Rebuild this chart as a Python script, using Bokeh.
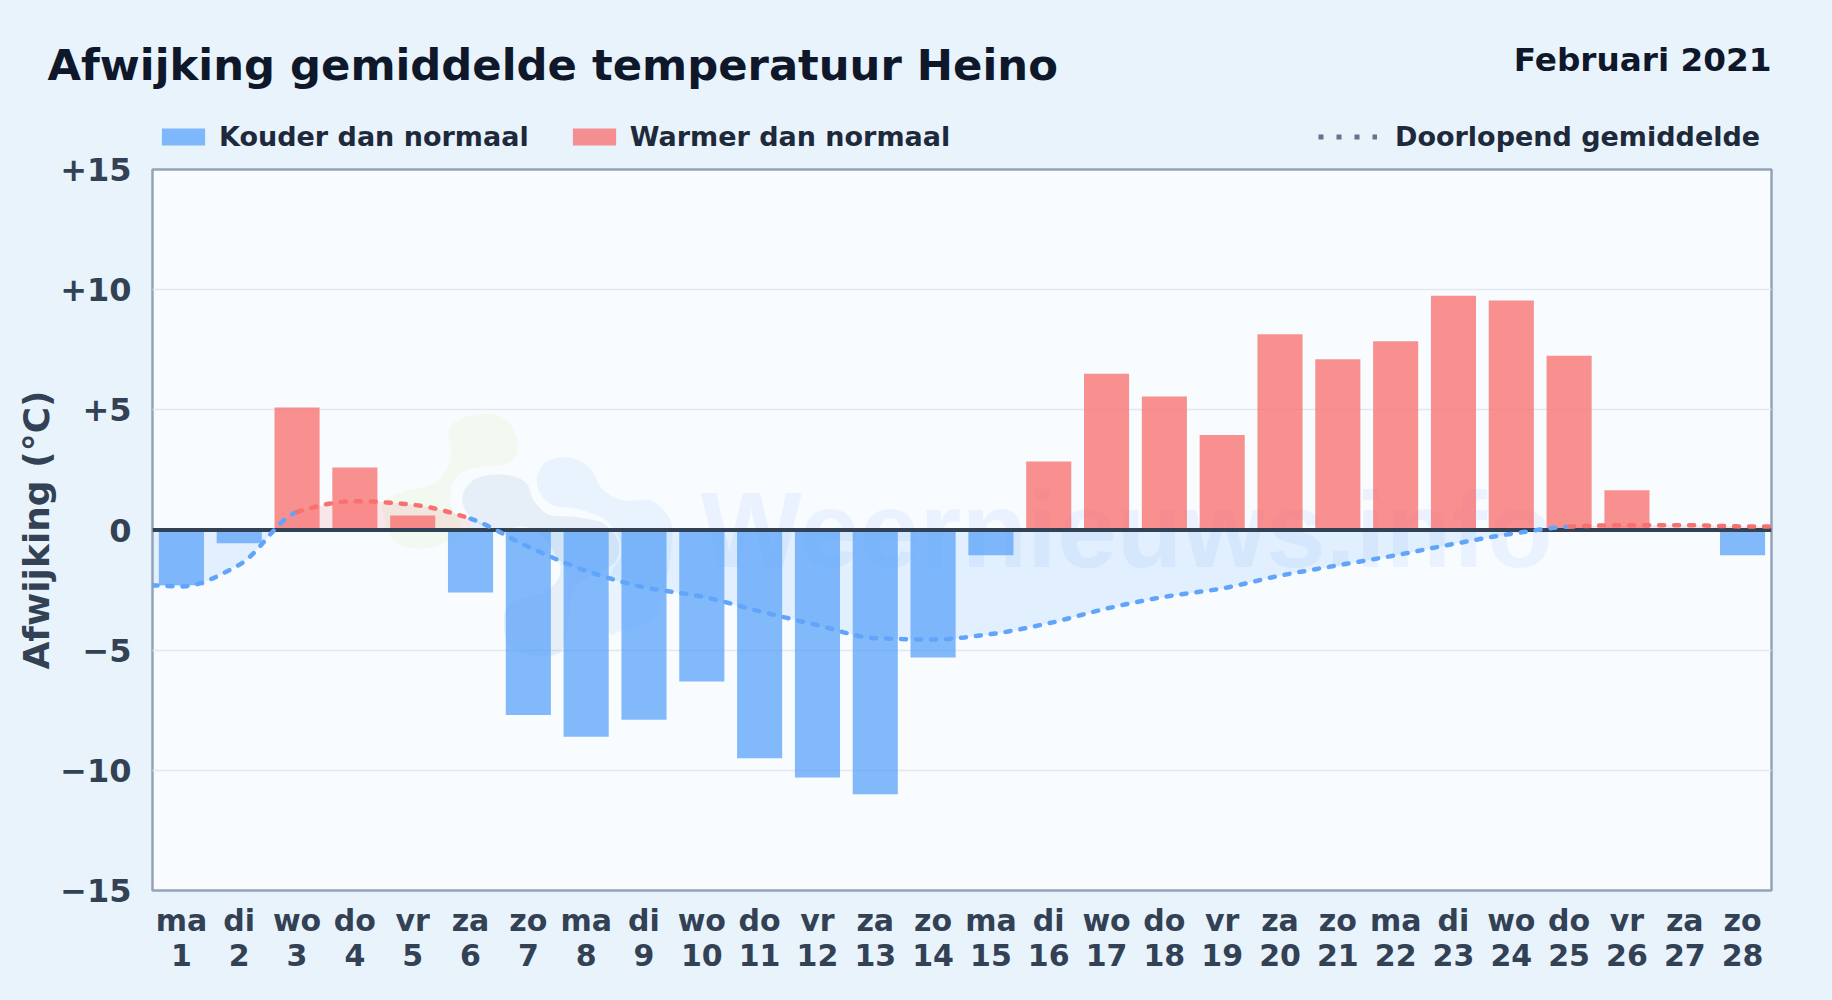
import numpy as np
from bokeh.plotting import figure
from bokeh.embed import file_html
from bokeh.layouts import column
from bokeh.resources import INLINE
from bokeh.models import (ColumnDataSource, FixedTicker, Label, Legend, LegendItem, Range1d)

# ---------------- data ----------------
days = list(range(1, 29))
weekdays = ["ma","di","wo","do","vr","za","zo"] * 4
deviation = [-2.3,-0.55,5.1,2.6,0.6,-2.6,-7.7,-8.6,-7.9,-6.3,-9.5,-10.3,-11.0,-5.3,
             -1.05,2.85,6.5,5.55,3.95,8.15,7.1,7.85,9.75,9.55,7.25,1.65,0.0,-1.05]
running_mean = [-2.35,-1.45,0.75,1.2,1.05,0.47,-0.7,-1.7,-2.38,-2.77,-3.38,-3.96,-4.5,-4.56,
                -4.33,-3.88,-3.27,-2.78,-2.43,-1.9,-1.47,-1.05,-0.58,-0.16,0.14,0.2,0.2,0.15]
y_ticks = [-15,-10,-5,0,5,10,15]
y_tick_labels = ["\u221215","\u221210","\u22125","0","+5","+10","+15"]
title_text = "Afwijking gemiddelde temperatuur Heino"
period_text = "Februari 2021"
y_axis_text = "Afwijking (\u00b0C)"
legend_cold = "Kouder dan normaal"
legend_warm = "Warmer dan normaal"
legend_mean = "Doorlopend gemiddelde"
watermark_text = "Weernieuws.info"

# ---------------- styles ----------------
FONT = "DejaVu Sans"
PAGE = "#E8F3FC"; PLOT = "#F8FCFF"
BLUE = "#60A5FA"; RED = "#F87171"
W = 1832
HEAD_H = 155                     # heading strip: title and legends
OVERLAP = 9                      # the chart's transparent top border lies over the strip's bottom
H = 1000 - HEAD_H + OVERLAP
L, R, T, B = 152, 61, 14 + OVERLAP, 110    # borders round the plot frame
PT = 169                         # page y of the frame top

p = figure(width=W, height=H, output_backend="svg", toolbar_location=None,
           x_range=Range1d(0.5, 28.5), y_range=Range1d(-15, 15),
           min_border_left=L, min_border_right=R, min_border_top=T, min_border_bottom=B,
           border_fill_color=None, background_fill_color=PLOT,
           outline_line_color="#94A3B8", outline_line_width=2.5,
           frame_align=False, margin=(-OVERLAP, 0, 0, 0))

# axes
p.xgrid.visible = False
p.ygrid.ticker = FixedTicker(ticks=[-10,-5,5,10])
p.ygrid.grid_line_color = "#E2E8F0"
p.ygrid.grid_line_width = 1.5

xa = p.xaxis[0]
xa.ticker = FixedTicker(ticks=days)
xa.major_label_overrides = {d: f"{w}\n{d}" for d, w in zip(days, weekdays)}
xa.major_label_text_line_height = 1.0
ya = p.yaxis[0]
ya.ticker = FixedTicker(ticks=y_ticks)
ya.major_label_overrides = dict(zip(y_ticks, y_tick_labels))
ya.axis_label = y_axis_text
ya.axis_label_text_font = FONT
ya.axis_label_text_font_size = "36px"
ya.axis_label_text_font_style = "bold"
ya.axis_label_text_color = "#334155"
ya.axis_label_standoff = 0
for ax, size, off in ((xa, "30px", 6), (ya, "32px", 15)):
    ax.axis_line_color = None
    ax.major_tick_line_color = None
    ax.minor_tick_line_color = None
    ax.major_label_text_font = FONT
    ax.major_label_text_font_size = size
    ax.major_label_text_font_style = "bold"
    ax.major_label_text_color = "#334155"
    ax.major_label_standoff = off

# watermark (faint decoration behind the data) -- page pixels -> data
def px2x(v): return (np.asarray(v, float) - L) / ((W - L - R) / 28.0) + 0.5
def py2y(v): return 15 - (np.asarray(v, float) - PT) / ((H - T - B) / 30.0)

def blob(pts):
    pts = np.array(pts, float)
    n = len(pts); out = []
    for i in range(n):
        p0, p1, p2, p3 = pts[i-1], pts[i], pts[(i+1) % n], pts[(i+2) % n]
        for t in np.linspace(0, 1, 10, endpoint=False):
            out.append(0.5*((2*p1)+(-p0+p2)*t+(2*p0-5*p1+4*p2-p3)*t*t+(-p0+3*p1-3*p2+p3)*t**3))
    out = np.array(out)
    return px2x(360 + out[:,0]/3), py2y(390 + out[:,1]/3)

green_blob = [(265,120),(300,85),(380,70),(440,90),(470,150),(465,200),(420,225),(330,235),(280,270),(270,340),
              (300,400),(270,450),(170,475),(100,450),(70,380),(70,330),(140,300),(220,280),(265,220),(270,170)]
light_blob = [(530,260),(560,212),(630,202),(690,235),(725,295),(790,330),(870,330),(925,380),(935,440),(920,560),
              (880,680),(780,722),(745,720),(750,560),(780,500),(775,440),(730,385),(650,355),(580,345),(540,310)]
dark_blob = [(305,320),(345,265),(430,252),(495,275),(520,330),(565,372),(650,380),(730,400),(775,460),(760,520),
             (690,555),(640,600),(620,700),(600,785),(520,795),(450,770),(430,700),(450,640),(560,600),(600,540),
             (570,470),(500,410),(400,420),(330,380)]
for pts, col, a in ((green_blob, "#84CC16", 0.06), (light_blob, "#60A5FA", 0.10), (dark_blob, "#1E5A9A", 0.08)):
    bx, by = blob(pts)
    p.patch(bx, by, fill_color=col, fill_alpha=a, line_color=None)

p.text(x=[px2x(700)], y=[py2y(529)], text=[watermark_text], text_font=dict(value="Liberation Sans"),
       text_font_size=dict(value="107.5px"), text_font_style="bold", text_color="#3B82F6", text_alpha=0.08,
       text_baseline="alphabetic", text_align="left")

# smooth running-mean path (monotone cubic through the read values), split per day-segment
lx = np.array([0.5] + days + [28.5], float)
ly = np.array([running_mean[0] + 0.05] + running_mean + [running_mean[-1]], float)
h = np.diff(lx); s = np.diff(ly) / h
m = np.zeros_like(ly)
for i in range(1, len(ly) - 1):
    if s[i-1] * s[i] > 0:
        m[i] = 3 * (h[i-1] + h[i]) / ((2*h[i] + h[i-1]) / s[i-1] + (h[i] + 2*h[i-1]) / s[i])
m[0] = s[0]; m[-1] = s[-1]

seg_x = {BLUE: [], RED: []}; seg_y = {BLUE: [], RED: []}
for i in range(len(lx) - 1):
    t = np.linspace(0, 1, 12)
    hx = lx[i] + t * h[i]
    hy = ((2*t**3 - 3*t**2 + 1) * ly[i] + (t**3 - 2*t**2 + t) * h[i] * m[i]
          + (-2*t**3 + 3*t**2) * ly[i+1] + (t**3 - t**2) * h[i] * m[i+1])
    col = BLUE if min(ly[i], ly[i+1]) < 0 else RED
    if seg_x[col] and seg_x[col][-1][-1] == hx[0]:
        seg_x[col][-1] = np.concatenate([seg_x[col][-1], hx[1:]])
        seg_y[col][-1] = np.concatenate([seg_y[col][-1], hy[1:]])
    else:
        seg_x[col].append(hx); seg_y[col].append(hy)

for col in (BLUE, RED):
    for sx, sy in zip(seg_x[col], seg_y[col]):
        p.varea(x=sx, y1=np.zeros_like(sy), y2=sy, fill_color=col, fill_alpha=0.15)

# bars
cold = ColumnDataSource(dict(x=[d for d, v in zip(days, deviation) if v < 0], top=[v for v in deviation if v < 0]))
warm = ColumnDataSource(dict(x=[d for d, v in zip(days, deviation) if v > 0], top=[v for v in deviation if v > 0]))
p.vbar(x="x", top="top", bottom=0, width=0.78, source=cold, fill_color=BLUE, fill_alpha=0.78, line_color=None)
p.vbar(x="x", top="top", bottom=0, width=0.78, source=warm, fill_color=RED, fill_alpha=0.78, line_color=None)

# zero line
p.line([0.5, 28.5], [0, 0], line_color="#334155", line_width=4)

# running mean line
for col in (BLUE, RED):
    for sx, sy in zip(seg_x[col], seg_y[col]):
        p.line(sx, sy, line_color=col, line_width=4.5, line_dash="5 10", line_cap="round")

# ---------------- heading strip: x range is page pixels, y measured up from the strip's bottom ----------------
head = figure(width=W, height=HEAD_H, output_backend="svg", toolbar_location=None,
              x_range=Range1d(0, W), y_range=Range1d(0, HEAD_H),
              min_border_left=0, min_border_right=0, min_border_top=0, min_border_bottom=0,
              border_fill_color=PAGE, background_fill_color=PAGE, outline_line_color=None,
              frame_align=False)
head.axis.visible = False
head.grid.visible = False

head.add_layout(Label(x=47, y=HEAD_H - 64, text=title_text, text_font=FONT, text_font_size="43.3px",
                      text_font_style="bold", text_color="#0F172A", text_align="left", text_baseline="alphabetic"))
head.add_layout(Label(x=1771, y=HEAD_H - 59, text=period_text, text_font=FONT, text_font_size="32.7px",
                      text_font_style="bold", text_color="#0F172A", text_align="right", text_baseline="alphabetic"))

# legend keys take their style from these renderers; their points lie outside the strip's ranges
k_cold = head.vbar(x=[-500], top=[-500], bottom=[-600], width=1, fill_color=BLUE, fill_alpha=0.78, line_color=None)
k_warm = head.vbar(x=[-500], top=[-500], bottom=[-600], width=1, fill_color=RED, fill_alpha=0.78, line_color=None)
k_mean = head.line([-500, -400], [-500, -500], line_color="#64748B", line_width=5, line_dash="5 13")
common = dict(orientation="horizontal", background_fill_alpha=0, border_line_color=None, padding=0, margin=0,
              glyph_width=54, glyph_height=21, label_standoff=9, spacing=38,
              label_text_font=FONT, label_text_font_size="27px", label_text_font_style="bold",
              label_text_color="#1E293B", label_text_baseline="middle")
leg1 = Legend(items=[LegendItem(label=legend_cold, renderers=[k_cold]), LegendItem(label=legend_warm, renderers=[k_warm])],
              location=(156, 3), **common)
leg2 = Legend(items=[LegendItem(label=legend_mean, renderers=[k_mean])], location=(1318, 3),
              **{**common, "glyph_width": 59, "label_standoff": 18})
head.add_layout(leg1, "center"); head.add_layout(leg2, "center")

page = column(head, p, spacing=0, styles={"background-color": PAGE})
open("out.html", "w").write(file_html(page, INLINE))
